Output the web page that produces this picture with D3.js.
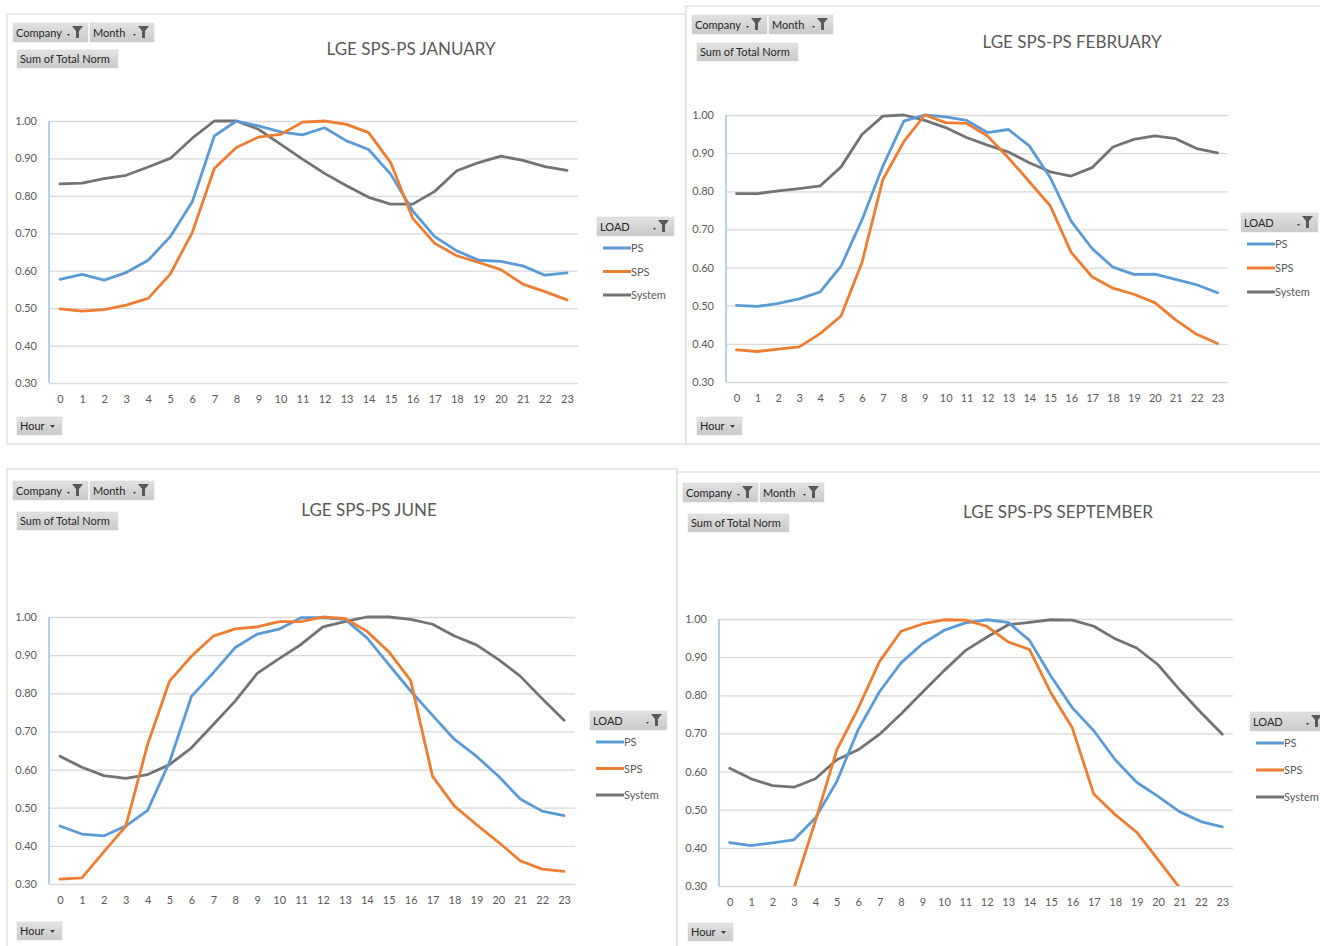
<!DOCTYPE html>
<html>
<head>
<meta charset="utf-8">
<script src="https://cdn.jsdelivr.net/npm/d3@7"></script>
<style>
  body { margin: 0; background: #fff; }
  svg { display: block; }
  text { font-family: Lato, "Open Sans", sans-serif; }
</style>
</head>
<body>
<svg id="chart" width="1320" height="946"></svg>
<script>
// hours on the category axis
const hours = [0, 1, 2, 3, 4, 5, 6, 7, 8, 9, 10, 11, 12, 13, 14, 15, 16, 17, 18, 19, 20, 21, 22, 23];
const yTicks = [0.30, 0.40, 0.50, 0.60, 0.70, 0.80, 0.90, 1.00];
const seriesNames = ["PS", "SPS", "System"];
const seriesColors = ["#5b9bd5", "#ed7d31", "#737373"];

// January
const janPS = [0.577, 0.590, 0.575, 0.595, 0.628, 0.691, 0.784, 0.960, 1.000, 0.987, 0.971, 0.963, 0.982, 0.947, 0.924, 0.858, 0.760, 0.691, 0.653, 0.628, 0.625, 0.613, 0.588, 0.594];
const janSPS = [0.498, 0.492, 0.496, 0.508, 0.526, 0.591, 0.702, 0.873, 0.929, 0.957, 0.964, 0.997, 1.000, 0.991, 0.969, 0.889, 0.740, 0.673, 0.640, 0.622, 0.603, 0.564, 0.544, 0.522];
const janSystem = [0.832, 0.834, 0.846, 0.855, 0.877, 0.900, 0.954, 1.000, 1.000, 0.978, 0.938, 0.898, 0.860, 0.827, 0.796, 0.778, 0.778, 0.812, 0.867, 0.889, 0.906, 0.895, 0.878, 0.868];

// February
const febPS = [0.501, 0.498, 0.506, 0.518, 0.536, 0.604, 0.725, 0.866, 0.984, 1.000, 0.995, 0.986, 0.954, 0.962, 0.919, 0.836, 0.722, 0.650, 0.601, 0.582, 0.583, 0.569, 0.555, 0.534];
const febSPS = [0.384, 0.380, 0.386, 0.392, 0.427, 0.473, 0.613, 0.831, 0.930, 1.000, 0.980, 0.978, 0.945, 0.888, 0.825, 0.762, 0.640, 0.576, 0.546, 0.530, 0.508, 0.463, 0.425, 0.401];
const febSystem = [0.794, 0.794, 0.801, 0.807, 0.814, 0.864, 0.949, 0.997, 1.000, 0.986, 0.967, 0.941, 0.921, 0.903, 0.875, 0.851, 0.840, 0.862, 0.916, 0.936, 0.945, 0.938, 0.912, 0.901];

// June
const junPS = [0.452, 0.431, 0.426, 0.452, 0.493, 0.620, 0.792, 0.854, 0.920, 0.955, 0.968, 0.998, 0.998, 0.994, 0.946, 0.876, 0.806, 0.742, 0.679, 0.635, 0.583, 0.523, 0.491, 0.479];
const junSPS = [0.313, 0.316, 0.384, 0.451, 0.666, 0.832, 0.897, 0.950, 0.969, 0.974, 0.988, 0.988, 1.000, 0.996, 0.963, 0.909, 0.834, 0.582, 0.504, 0.456, 0.410, 0.361, 0.339, 0.333];
const junSystem = [0.635, 0.606, 0.584, 0.577, 0.587, 0.613, 0.657, 0.718, 0.780, 0.852, 0.891, 0.928, 0.974, 0.988, 1.000, 1.000, 0.994, 0.981, 0.950, 0.927, 0.889, 0.845, 0.786, 0.729];

// September (SPS night values sit below the 0.30 axis floor)
const sepPS = [0.414, 0.406, 0.413, 0.421, 0.478, 0.574, 0.710, 0.810, 0.885, 0.935, 0.970, 0.990, 0.998, 0.991, 0.944, 0.850, 0.767, 0.707, 0.631, 0.572, 0.535, 0.495, 0.469, 0.455];
const sepSPS = [0.270, 0.260, 0.265, 0.295, 0.470, 0.657, 0.766, 0.889, 0.968, 0.987, 0.998, 0.997, 0.981, 0.940, 0.920, 0.806, 0.714, 0.541, 0.487, 0.441, 0.369, 0.296, 0.255, 0.225];
const sepSystem = [0.609, 0.581, 0.563, 0.559, 0.581, 0.631, 0.657, 0.698, 0.751, 0.808, 0.864, 0.917, 0.952, 0.985, 0.991, 0.998, 0.997, 0.981, 0.948, 0.924, 0.880, 0.815, 0.755, 0.698];

const panels = [
  { month: "JANUARY", series: [janPS, janSPS, janSystem],
    frame: [7, 14, 679, 430], plot: { left: 49, right: 578, top: 121, bottom: 383 },
    title: [411, 55], filters: [13, 23], sum: [17, 50], hour: [17, 417], legend: [597, 217], rowGap: 23.5 },
  { month: "FEBRUARY", series: [febPS, febSPS, febSystem],
    frame: [686, 6, 640, 438], plot: { left: 726, right: 1228, top: 115, bottom: 382 },
    title: [1072, 48], filters: [692, 15], sum: [697, 43], hour: [697, 417], legend: [1241, 213], rowGap: 24 },
  { month: "JUNE", series: [junPS, junSPS, junSystem],
    frame: [7, 469, 670, 490], plot: { left: 49, right: 575, top: 617, bottom: 884 },
    title: [369, 516], filters: [13, 481], sum: [17, 512], hour: [17, 922], legend: [590, 711], rowGap: 26.5 },
  { month: "SEPTEMBER", series: [sepPS, sepSPS, sepSystem],
    frame: [677, 472, 660, 490], plot: { left: 719, right: 1233, top: 619, bottom: 886 },
    title: [1058, 518], filters: [683, 483], sum: [688, 514], hour: [688, 923], legend: [1250, 712], rowGap: 27 }
];

const svg = d3.select("#chart");
const defs = svg.append("defs");
const grad = defs.append("linearGradient").attr("id", "btn").attr("x1", 0).attr("x2", 0).attr("y1", 0).attr("y2", 1);
grad.append("stop").attr("offset", "0%").attr("stop-color", "#e2e2e2");
grad.append("stop").attr("offset", "100%").attr("stop-color", "#c9c9c9");

function funnel(g, x, y) {
  // small dropdown mark + filter funnel
  g.append("path").attr("d", `M${x},${y + 8} l3,0 l-1.5,2 z`).attr("fill", "#404040");
  g.append("path")
    .attr("d", `M${x + 5},${y} h11 l-4,5 v7 h-3 v-7 z`)
    .attr("fill", "#595959");
}

function button(g, x, y, w, h, label, icon) {
  const b = g.append("g").attr("transform", `translate(${x},${y})`);
  b.append("rect").attr("width", w).attr("height", h).attr("fill", "url(#btn)")
    .attr("stroke", "#d4d4d4").attr("stroke-width", 0.5);
  b.append("text").attr("x", 3).attr("y", h / 2 + 4).attr("font-size", 11)
    .attr("fill", "#262626").text(label);
  if (icon === "funnel") funnel(b, w - 21, 3);
  if (icon === "arrow") {
    b.append("path").attr("d", `M${w - 12},${h / 2 - 1} h5 l-2.5,3 z`).attr("fill", "#404040");
  }
}

panels.forEach(p => {
  const g = svg.append("g");
  const [fx, fy, fw, fh] = p.frame;
  g.append("rect").attr("x", fx).attr("y", fy).attr("width", fw).attr("height", fh)
    .attr("fill", "#fff").attr("stroke", "#d9d9d9").attr("stroke-width", 1.2);

  const x = d3.scalePoint().domain(hours).range([p.plot.left, p.plot.right]).padding(0.5);
  const y = d3.scaleLinear().domain([0.3, 1.0]).range([p.plot.bottom, p.plot.top]);

  // gridlines + y labels
  const yAxis = g.append("g").attr("transform", `translate(${p.plot.left},0)`)
    .call(d3.axisLeft(y).tickValues(yTicks).tickFormat(d3.format(".2f"))
      .tickSize(-(p.plot.right - p.plot.left)).tickPadding(12));
  yAxis.select(".domain").remove();
  yAxis.selectAll(".tick line").attr("stroke", "#d9d9d9").attr("stroke-width", 1.3);
  yAxis.selectAll(".tick text").attr("fill", "#595959").attr("font-size", 11)
    .attr("font-family", "Lato, sans-serif");

  // vertical value axis line
  g.append("line").attr("x1", p.plot.left).attr("x2", p.plot.left)
    .attr("y1", p.plot.top).attr("y2", p.plot.bottom)
    .attr("stroke", "#9dc3e6").attr("stroke-width", 1.5);

  // category labels
  const xAxis = g.append("g").attr("transform", `translate(0,${p.plot.bottom})`)
    .call(d3.axisBottom(x).tickSize(0).tickPadding(12));
  xAxis.select(".domain").remove();
  xAxis.selectAll(".tick text").attr("fill", "#595959").attr("font-size", 11)
    .attr("font-family", "Lato, sans-serif");

  // lines, clipped to the plot area
  const clipId = "clip-" + p.month;
  defs.append("clipPath").attr("id", clipId).append("rect")
    .attr("x", p.plot.left).attr("y", p.plot.top - 3)
    .attr("width", p.plot.right - p.plot.left).attr("height", p.plot.bottom - p.plot.top + 3);
  const line = d3.line().x((d, i) => x(hours[i])).y(d => y(d));
  const lines = g.append("g").attr("clip-path", `url(#${clipId})`);
  [2, 0, 1].forEach(k => {
    lines.append("path").datum(p.series[k]).attr("d", line)
      .attr("fill", "none").attr("stroke", seriesColors[k]).attr("stroke-width", 2.8)
      .attr("stroke-linejoin", "round").attr("stroke-linecap", "round");
  });

  // title
  g.append("text").attr("x", p.title[0]).attr("y", p.title[1]).attr("text-anchor", "middle")
    .attr("font-size", 17).attr("fill", "#595959").text("LGE SPS-PS " + p.month);

  // pivot field buttons
  button(g, p.filters[0], p.filters[1], 75, 19, "Company", "funnel");
  button(g, p.filters[0] + 77, p.filters[1], 64, 19, "Month", "funnel");
  button(g, p.sum[0], p.sum[1], 101, 18, "Sum of Total Norm");
  button(g, p.hour[0], p.hour[1], 45, 18, "Hour", "arrow");
  button(g, p.legend[0], p.legend[1], 77, 19, "LOAD", "funnel");

  // legend entries
  seriesNames.forEach((name, k) => {
    const ly = p.legend[1] + 31 + k * p.rowGap;
    g.append("line").attr("x1", p.legend[0] + 6).attr("x2", p.legend[0] + 34)
      .attr("y1", ly).attr("y2", ly).attr("stroke", seriesColors[k]).attr("stroke-width", 3);
    g.append("text").attr("x", p.legend[0] + 34).attr("y", ly + 4).attr("font-size", 11)
      .attr("fill", "#595959").text(name);
  });
});
</script>
</body>
</html>
